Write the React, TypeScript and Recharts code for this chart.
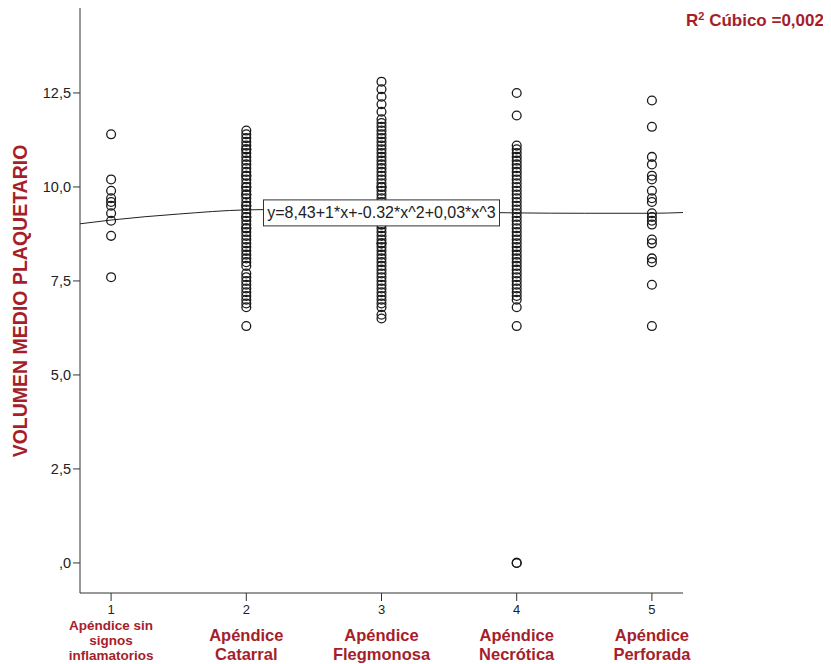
import React from 'react';
import { ScatterChart, Scatter, XAxis, YAxis } from 'recharts';

const categories = [1, 2, 3, 4, 5];
const categoryLabels = [
  ['Apéndice sin', 'signos', 'inflamatorios'],
  ['Apéndice', 'Catarral'],
  ['Apéndice', 'Flegmonosa'],
  ['Apéndice', 'Necrótica'],
  ['Apéndice', 'Perforada'],
];
const yTicks = [0, 2.5, 5, 7.5, 10, 12.5];

// volumen medio plaquetario por grupo
const sinSignos = [11.4, 10.2, 9.9, 9.7, 9.6, 9.5, 9.3, 9.1, 8.7, 7.6];
const catarral = [
  11.5, 11.4, 11.3, 11.2, 11.1, 11.0, 11.0, 10.9, 10.8, 10.7, 10.6, 10.5, 10.4, 10.3, 10.3,
  10.2, 10.1, 10.0, 10.0, 9.9, 9.8, 9.8, 9.7, 9.6, 9.5, 9.5, 9.4, 9.3, 9.2, 9.2, 9.1, 9.0,
  8.9, 8.9, 8.8, 8.7, 8.6, 8.5, 8.4, 8.3, 8.2, 8.1, 8.0, 7.9, 7.7, 7.6, 7.5, 7.4, 7.3, 7.2,
  7.1, 7.0, 6.9, 6.8, 6.3,
];
const flegmonosa = [
  12.8, 12.6, 12.4, 12.2, 12.0, 11.8, 11.7, 11.6, 11.5, 11.4, 11.3, 11.2, 11.1, 11.0, 10.9,
  10.8, 10.7, 10.6, 10.5, 10.4, 10.3, 10.2, 10.1, 10.0, 10.0, 9.9, 9.8, 9.7, 9.6, 9.5, 9.5,
  9.4, 9.3, 9.2, 9.1, 9.0, 9.0, 8.9, 8.8, 8.7, 8.6, 8.5, 8.5, 8.4, 8.3, 8.2, 8.1, 8.0, 7.9,
  7.8, 7.7, 7.6, 7.5, 7.4, 7.3, 7.2, 7.1, 7.0, 6.9, 6.8, 6.6, 6.5,
];
const necrotica = [
  12.5, 11.9, 11.1, 11.0, 10.9, 10.8, 10.7, 10.6, 10.5, 10.4, 10.3, 10.2, 10.1, 10.0, 9.9,
  9.8, 9.7, 9.6, 9.5, 9.4, 9.3, 9.2, 9.1, 9.0, 8.9, 8.8, 8.7, 8.6, 8.5, 8.4, 8.3, 8.2, 8.1,
  8.0, 7.9, 7.8, 7.7, 7.6, 7.5, 7.4, 7.3, 7.2, 7.1, 7.0, 6.8, 6.3, 0, 0,
];
const perforada = [
  12.3, 11.6, 10.8, 10.6, 10.3, 10.2, 9.9, 9.7, 9.6, 9.3, 9.2, 9.1, 9.0, 8.6, 8.5, 8.1, 8.0,
  7.4, 6.3,
];

// curva cúbica ajustada
const fitX = [0.77, 1, 1.5, 2, 2.5, 3, 3.5, 4, 4.5, 5, 5.23];
const fitY = [9.02, 9.12, 9.28, 9.39, 9.41, 9.38, 9.34, 9.31, 9.3, 9.3, 9.32];

const equation = 'y=8,43+1*x+-0.32*x^2+0,03*x^3';
const eqPos = { x: 3, y: 9.31 };

const groups = [sinSignos, catarral, flegmonosa, necrotica, perforada];
const points = groups.flatMap((vals, i) => vals.map((v) => ({ x: categories[i], y: v })));
const fitData = fitX.map((x, i) => ({ x, y: fitY[i] }));

const RED = '#A61E2A';
const AXIS = '#333';
const SANS = '"Liberation Sans", Arial, sans-serif';

const fmtY = (v: number) => (v === 0 ? ',0' : v.toFixed(1).replace('.', ','));

const XTick = (props: any) => {
  const { x, y, payload } = props;
  const idx = categories.indexOf(payload.value);
  const lines = categoryLabels[idx] || [];
  const three = lines.length === 3;
  const step = three ? 15.2 : 19;
  return (
    <g>
      <text x={x} y={y + 13} textAnchor="middle" fontFamily={SANS} fontSize={13} fill="#222">
        {payload.value}
      </text>
      <text
        x={x}
        y={y + (three ? 29 : 40)}
        textAnchor="middle"
        fontFamily={SANS}
        fontWeight="bold"
        fontSize={three ? 13.5 : 16.5}
        fill={RED}
      >
        {lines.map((l, i) => (
          <tspan key={i} x={x} dy={i === 0 ? 0 : step}>
            {l}
          </tspan>
        ))}
      </text>
    </g>
  );
};

const Circle = (props: any) => (
  <circle cx={props.cx} cy={props.cy} r={4.4} fill="none" stroke="#1a1a1a" strokeWidth={1.3} />
);

const EqBox = (props: any) => (
  <g>
    <rect x={props.cx - 118} y={props.cy - 13} width={236} height={26} fill="#fff" stroke="#333" strokeWidth={1} />
    <text x={props.cx} y={props.cy + 5.5} textAnchor="middle" fontFamily={SANS} fontSize={16} fill="#222">
      {equation}
    </text>
  </g>
);

const YLabel = () => (
  <text
    x={19}
    y={293}
    transform="rotate(-90 19 293)"
    textAnchor="middle"
    fontFamily={SANS}
    fontWeight="bold"
    fontSize={19.5}
    fill={RED}
  >
    VOLUMEN MEDIO PLAQUETARIO
  </text>
);

export default function App() {
  return (
    <div style={{ position: 'relative', width: 823, height: 656, background: '#fff' }}>
      <ScatterChart width={823} height={656} margin={{ top: 0, right: 148, bottom: 0, left: 0 }}>
        <XAxis
          type="number"
          dataKey="x"
          domain={[0.77, 5.23]}
          ticks={categories}
          tick={<XTick />}
          tickSize={8}
          tickMargin={0}
          height={71}
          stroke={AXIS}
          allowDataOverflow
        />
        <YAxis
          type="number"
          dataKey="y"
          domain={[-0.8, 14.76]}
          ticks={yTicks}
          tickFormatter={fmtY}
          tickSize={7}
          tickMargin={2}
          width={72}
          stroke={AXIS}
          tick={{ fill: '#222', fontSize: 14.5, fontFamily: SANS }}
          allowDataOverflow
          label={<YLabel />}
        />
        <Scatter
          data={fitData}
          line={{ stroke: '#222', strokeWidth: 1 }}
          lineJointType="monotoneX"
          shape={() => null}
          isAnimationActive={false}
        />
        <Scatter data={points} shape={<Circle />} isAnimationActive={false} />
        <Scatter data={[eqPos]} shape={<EqBox />} isAnimationActive={false} />
      </ScatterChart>
      <div
        style={{
          position: 'absolute',
          left: 678,
          top: 3,
          fontFamily: SANS,
          fontWeight: 'bold',
          fontSize: 17,
          lineHeight: '20px',
          color: RED,
          whiteSpace: 'nowrap',
        }}
      >
        R<sup style={{ fontSize: 11, lineHeight: 0, verticalAlign: 6 }}>2</sup> Cúbico =0,002
      </div>
    </div>
  );
}
